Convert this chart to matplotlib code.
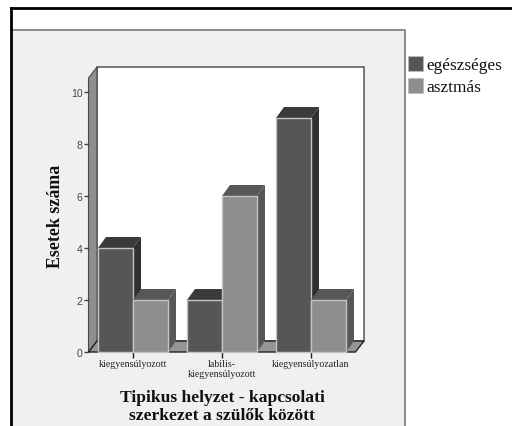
import matplotlib
matplotlib.use("Agg")
import matplotlib.pyplot as plt
from matplotlib.patches import Polygon, Rectangle

categories = ["kiegyensúlyozott", "labilis-\nkiegyensúlyozott", "kiegyensúlyozatlan"]
series_names = ["egészséges", "asztmás"]
egeszseges = [4, 2, 9]
asztmas = [2, 6, 2]
y_ticks = [0, 2, 4, 6, 8, 10]
y_label = "Esetek száma"
x_label = "Tipikus helyzet - kapcsolati\nszerkezet a szülők között"

W, H = 512, 427
FONT = "Liberation Serif"
fig = plt.figure(figsize=(W / 100, H / 100), dpi=100, facecolor="white")

def px_axes(l, t, r, b):
    return [l / W, 1 - b / H, (r - l) / W, (b - t) / H]

# page layer in pixel coordinates
bg = fig.add_axes([0, 0, 1, 1], zorder=0)
bg.set_xlim(0, W); bg.set_ylim(H, 0); bg.axis("off")
bg.add_patch(Rectangle((11, 31), 394, H - 31, fc="#f0f0f0", ec="none"))
bg.plot([11, 405, 405], [31, 31, 427], color="#8a8a8a", lw=1.4)
bg.plot([11, 11], [427, 9], color="black", lw=2)
bg.plot([11, 512], [9, 9], color="black", lw=2)

# chart axes: the front plane of the 3D box
x0, x1 = 88.5, 355.5
ytop, ybot = 79, 353
ax = fig.add_axes(px_axes(x0, ytop, x1, ybot), zorder=1)
ax.set_xlim(-0.5, 2.5)
ax.set_ylim(0, (ybot - ytop) / 26.0)
ax.patch.set_alpha(0)
for s in ax.spines.values():
    s.set_visible(False)

ux = (x1 - x0) / 3
uy = 26.0
wall_dx, wall_dy = 8.5 / ux, 11 / uy
bar_dx, bar_dy = 8 / ux, 11 / uy
ymax = ax.get_ylim()[1]
xl, xr = -0.5, 2.5

def poly(pts, fc, ec="none", lw=0.0, z=1):
    ax.add_patch(Polygon(pts, closed=True, fc=fc, ec=ec, lw=lw, zorder=z, clip_on=False))

# back wall, left wall, floor
poly([(xl + wall_dx, wall_dy), (xr + wall_dx, wall_dy), (xr + wall_dx, ymax + wall_dy),
      (xl + wall_dx, ymax + wall_dy)], "white", "#555555", 1.1)
poly([(xl, 0), (xl + wall_dx, wall_dy), (xl + wall_dx, ymax + wall_dy), (xl, ymax)],
     "#8f8f8f", "#4a4a4a", 0.8)
poly([(xl, 0), (xr, 0), (xr + wall_dx, wall_dy), (xl + wall_dx, wall_dy)],
     "#959595", "#222222", 1.0)

# bars
bar_w = 35 / ux
styles = [("#565656", "#3a3a3a", "#303030"), ("#8e8e8e", "#575757", "#575757")]
for s, vals in enumerate([egeszseges, asztmas]):
    front, top, side = styles[s]
    for i, v in enumerate(vals):
        l = i - bar_w if s == 0 else i
        r = l + bar_w
        z = 3 + i * 2 + s * 0.5
        poly([(l, v), (r, v), (r + bar_dx, v + bar_dy), (l + bar_dx, v + bar_dy)], top, z=z)
        poly([(r, 0), (r + bar_dx, bar_dy), (r + bar_dx, v + bar_dy), (r, v)], side, z=z)
        ax.bar(i - bar_w / 2 if s == 0 else i + bar_w / 2, v, width=bar_w, color=front,
               edgecolor="#c4c4c4", linewidth=1.0, zorder=z + 0.2, clip_on=False)

ax.set_yticks(y_ticks)
ax.set_xticks(range(len(categories)))
ax.set_xticklabels(categories, fontsize=7.1, family=FONT, color="#222222", linespacing=1.2)
ax.tick_params(axis="y", length=3.6, width=1.0, labelsize=7.6, pad=0.8, colors="#444444")
ax.tick_params(axis="x", length=4, width=1.0, pad=0.8, colors="#222222")
for lab in ax.get_yticklabels():
    lab.set_family("Liberation Sans")

fig.text(55 / W, 1 - 216 / H, y_label, rotation=90, ha="center", va="center",
         fontsize=12.9, fontweight="bold", family=FONT, color="#111111")
fig.text(222 / W, 1 - 407 / H, x_label, ha="center", va="center", fontsize=12.6,
         fontweight="bold", family=FONT, color="#111111", linespacing=1.2)

# legend
for name, y, c in zip(series_names, [64.5, 86], ["#565656", "#8e8e8e"]):
    bg.add_patch(Rectangle((408, y - 7.5), 15, 15, fc=c, ec="#bbbbbb", lw=0.6))
    bg.text(426, y + 2, name, fontsize=12.4, family=FONT, va="center", ha="left", color="#111111")

fig.savefig("out.png", dpi=100)
